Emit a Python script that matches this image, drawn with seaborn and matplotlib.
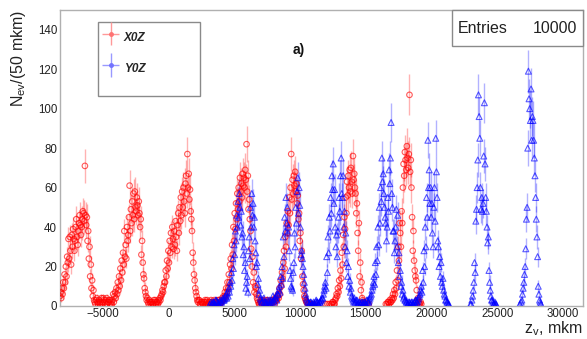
import numpy as np
import pandas as pd
import seaborn as sns
import matplotlib
matplotlib.use('Agg')
import matplotlib.pyplot as plt
from matplotlib.patches import Rectangle
from matplotlib.ticker import MultipleLocator
from matplotlib.container import ErrorbarContainer
from matplotlib.legend_handler import HandlerErrorbar

### histogram contents, 50 mkm bins
red_start = -8275
blue_start = 3125
bin_step = 50

red_counts = [5, 7, 4, 9, 6, 12, 9, 16, 12, 20, 15, 25, 22, 34, 24, 35, 28, 21, 36, 30,
              39, 34, 28, 33, 40, 44, 35, 31, 38, 42, 46, 41, 36, 40, 44, 48, 47, 43, 71, 46,
              41, 45, 33, 38, 24, 30, 15, 21, 9, 13, 5, 8, 3, 2, 1, 3, 4, 2, 1, 2,
              3, 1, 2, 4, 1, 2, 4, 3, 2, 1, 3, 4, 1, 2, 2, 3, 3, 1, 2, 1,
              3, 6, 2, 5, 7, 4, 9, 6, 12, 8, 15, 10, 19, 13, 23, 17, 27, 21, 38, 25,
              31, 24, 40, 33, 36, 45, 61, 38, 49, 42, 53, 46, 57, 44, 58, 50, 48, 55, 51, 46,
              53, 47, 40, 44, 26, 33, 22, 16, 14, 9, 7, 5, 3, 4, 2, 1, 3, 2, 1, 2,
              2, 1, 1, 3, 2, 3, 1, 2, 2, 1, 3, 2, 4, 3, 5, 6, 8, 7, 10, 12,
              12, 18, 15, 23, 19, 28, 22, 33, 27, 37, 30, 40, 34, 29, 38, 31, 43, 35, 28, 41,
              47, 37, 50, 43, 55, 46, 58, 50, 60, 53, 47, 62, 66, 57, 77, 60, 67, 54, 59, 48,
              44, 38, 27, 22, 16, 13, 9, 7, 5, 3, 2, 3, 3, 1, 1, 2, 2, 1, 1, 2,
              2, 3, 1, 2, 3, 1, 1, 2, 2, 1, 3, 2, 1, 1, 2, 3, 2, 1, 1, 2,
              2, 3, 3, 1, 1, 2, 2, 4, 3, 5, 4, 7, 5, 9, 7, 12, 9, 16, 12, 21,
              24, 19, 31, 26, 40, 33, 47, 39, 52, 44, 57, 49, 60, 53, 65, 58, 62, 55, 67, 61,
              65, 60, 69, 64, 82, 58, 66, 49, 54, 44, 38, 29, 20, 25, 12, 17, 7, 10, 9, 6,
              4, 3, 2, 1, 1, 2, 2, 1, 3, 2, 1, 1, 2, 3, 1, 2, 3, 1, 2, 1,
              1, 2, 2, 3, 3, 2, 2, 1, 4, 3, 3, 5, 6, 4, 9, 6, 13, 10, 17, 14,
              22, 28, 19, 35, 30, 42, 37, 48, 41, 55, 47, 60, 77, 54, 64, 57, 66, 61, 68, 58,
              62, 52, 56, 44, 47, 33, 37, 24, 28, 15, 11, 8, 5, 4, 3, 2, 2, 1, 1, 1,
              1, 0, 0, 1, 0, 0, 1, 0, 0, 0, 0, 0, 0, 0, 0, 0, 0, 0, 0, 0,
              0, 0, 0, 0, 1, 0, 0, 1, 0, 0, 1, 0, 0, 1, 1, 2, 2, 1, 1, 3,
              4, 6, 5, 9, 7, 13, 10, 18, 14, 27, 21, 36, 30, 45, 39, 55, 47, 63, 56, 66,
              60, 69, 58, 70, 63, 57, 76, 64, 67, 60, 57, 47, 52, 37, 28, 42, 15, 22, 8, 12,
              4, 3, 2, 2, 1, 1, 0, 1, 0, 0, 1, 0, 0, 0, 0, 0, 0, 0, 0, 0,
              0, 0, 0, 0, 0, 0, 0, 0, 0, 0, 0, 0, 0, 0, 0, 0, 1, 0, 1, 2,
              2, 1, 3, 2, 2, 4, 3, 6, 4, 8, 6, 12, 9, 18, 13, 30, 23, 42, 37, 30,
              48, 42, 60, 72, 66, 78, 74, 69, 81, 75, 70, 77, 107, 68, 74, 60, 45, 28, 38, 23,
              18, 15, 13, 8, 3, 4, 2, 1, 1, 2, 1, 0, 0, 0]

blue_counts = [1, 0, 2, 1, 1, 2, 2, 1, 1, 3, 3, 2, 2, 1, 1, 2, 3, 2, 2, 3,
               4, 3, 3, 4, 5, 6, 4, 7, 5, 9, 7, 12, 10, 17, 13, 24, 19, 31, 26, 38,
               33, 46, 40, 53, 45, 57, 50, 41, 48, 35, 37, 26, 30, 18, 22, 9, 12, 15, 7, 28,
               35, 24, 50, 40, 57, 46, 52, 40, 45, 33, 27, 20, 22, 11, 14, 6, 8, 4, 3, 2,
               2, 3, 4, 2, 2, 1, 1, 2, 3, 1, 2, 3, 1, 2, 3, 2, 5, 3, 2, 4,
               4, 5, 3, 6, 6, 8, 10, 7, 15, 11, 20, 14, 35, 25, 45, 38, 55, 42, 50, 37,
               40, 28, 18, 14, 10, 9, 8, 17, 22, 37, 30, 50, 42, 58, 65, 47, 60, 51, 40, 26,
               28, 24, 20, 16, 12, 9, 6, 4, 3, 2, 2, 1, 1, 2, 2, 1, 1, 1, 2, 1,
               1, 2, 3, 2, 2, 1, 1, 2, 2, 3, 3, 4, 4, 6, 8, 10, 12, 9, 25, 17,
               35, 27, 45, 38, 55, 47, 66, 59, 72, 52, 59, 40, 30, 36, 25, 38, 45, 55, 48, 66,
               75, 57, 55, 66, 40, 48, 30, 37, 22, 28, 15, 20, 10, 13, 7, 9, 5, 4, 3, 2,
               4, 2, 2, 3, 3, 1, 1, 2, 2, 1, 1, 2, 2, 1, 1, 2, 2, 1, 1, 3,
               3, 2, 2, 3, 4, 5, 6, 8, 10, 12, 15, 11, 22, 16, 30, 23, 40, 31, 50, 42,
               60, 53, 75, 63, 67, 57, 50, 45, 42, 33, 40, 55, 48, 69, 62, 75, 93, 57, 50, 38,
               38, 27, 33, 40, 49, 30, 46, 22, 27, 15, 18, 10, 12, 6, 8, 4, 5, 3, 3, 2,
               2, 1, 1, 2, 2, 1, 1, 2, 2, 1, 1, 2, 2, 3, 3, 2, 2, 3, 4, 5,
               6, 8, 10, 7, 18, 12, 28, 20, 40, 30, 55, 45, 84, 60, 69, 52, 60, 45, 52, 37,
               30, 50, 60, 43, 85, 68, 55, 33, 30, 20, 25, 15, 22, 12, 10, 14, 8, 6, 5, 3,
               3, 2, 2, 1, 1, 0, 0, 0, 0, 0, 0, 0, 0, 0, 0, 0, 0, 0, 0, 0,
               0, 0, 0, 0, 0, 0, 0, 0, 0, 0, 0, 0, 0, 0, 0, 0, 0, 1, 1, 3,
               5, 8, 12, 22, 17, 43, 49, 60, 74, 107, 96, 85, 60, 49, 55, 48, 52, 76, 103, 72,
               55, 48, 40, 32, 35, 18, 12, 8, 5, 3, 3, 2, 1, 1, 2, 1, 1, 0, 0, 0,
               0, 0, 0, 0, 0, 0, 0, 0, 0, 0, 0, 0, 0, 0, 0, 0, 0, 0, 0, 0,
               0, 0, 0, 0, 0, 0, 0, 0, 0, 0, 0, 0, 1, 0, 2, 3, 6, 9, 12, 16,
               20, 29, 44, 50, 80, 119, 105, 100, 94, 110, 84, 96, 94, 84, 75, 66, 55, 44, 35, 25,
               10, 6, 3, 2, 1, 0, 0, 0]

n_entries = 10000
series_names = ['X0Z', 'Y0Z']
x_major = [-5000, 0, 5000, 10000, 15000, 20000, 25000, 30000]
y_major = [0, 20, 40, 60, 80, 100, 120, 140]


def to_frame(start, counts):
    frame = pd.DataFrame({'z': start + bin_step * np.arange(len(counts)), 'n': counts})
    frame = frame[frame.n > 0].copy()   # empty bins are not drawn
    frame['err'] = np.sqrt(frame.n)
    return frame


if __name__ == '__main__':
    sns.set_style('white')
    plt.rcParams['font.family'] = ['Liberation Sans', 'DejaVu Sans']
    plt.rcParams['mathtext.fontset'] = 'custom'
    plt.rcParams['mathtext.rm'] = 'Liberation Sans'
    plt.rcParams['mathtext.it'] = 'Liberation Sans:italic'

    red = to_frame(red_start, red_counts)
    blue = to_frame(blue_start, blue_counts)

    fig = plt.figure(figsize=(5.87, 3.39), dpi=100)
    ax = fig.add_axes([60 / 587, 33 / 339, 523 / 587, 296 / 339])

    red_col = (1.0, 0.0, 0.0)
    blue_col = (0.0, 0.0, 1.0)

    ### error bars then open markers
    ax.vlines(red.z, red.n - red.err, red.n + red.err, color=red_col, alpha=0.3, lw=1.0, zorder=2)
    ax.vlines(blue.z, blue.n - blue.err, blue.n + blue.err, color=blue_col, alpha=0.3, lw=1.0, zorder=2)
    sns.scatterplot(data=red, x='z', y='n', ax=ax, marker='o', s=16, facecolor='none',
                    edgecolor=red_col, alpha=0.65, linewidth=0.8, zorder=3)
    sns.scatterplot(data=blue, x='z', y='n', ax=ax, marker='^', s=18, facecolor='none',
                    edgecolor=blue_col, alpha=0.65, linewidth=0.8, zorder=3)

    ax.set_xlim(-8270, 31530)
    ax.set_ylim(0, 150)
    ax.set_xticks(x_major)
    ax.set_yticks(y_major)
    ax.xaxis.set_minor_locator(MultipleLocator(1000))
    ax.yaxis.set_minor_locator(MultipleLocator(5))
    ax.tick_params(which='both', direction='in', color='#8a8a8a', width=0.9,
                   labelcolor='#222222', labelsize=8.3)
    ax.tick_params(axis='x', which='major', length=6.5, pad=1.5)
    ax.tick_params(axis='x', which='minor', length=3.2)
    ax.tick_params(axis='y', which='major', length=11.3, pad=2)
    ax.tick_params(axis='y', which='minor', length=5.6)
    ax.tick_params(top=False, right=False, which='both')
    for sp in ax.spines.values():
        sp.set_visible(True)
        sp.set_color('#b0b0b0')
        sp.set_linewidth(1.0)

    ax.set_xlabel(r'z$_{\mathrm{v}}$, mkm', loc='right', fontsize=11.5, color='#222222')
    ax.set_ylabel(r'N$_{\mathrm{ev}}$/(50 mkm)', loc='top', fontsize=11.5, color='#222222')
    ax.xaxis.set_label_coords(1.0, -0.045)
    ax.xaxis.label.set_va('top')
    ax.yaxis.set_label_coords(-0.0803, 1.0)
    ax.yaxis.label.set_rotation_mode('default')
    ax.yaxis.label.set_ha('center')
    ax.yaxis.label.set_va('top')

    ### legend box
    ax.add_patch(Rectangle((0.073, 0.709), 0.195, 0.25, transform=ax.transAxes,
                           facecolor='white', edgecolor='#8a8a8a', lw=1.0, zorder=5))
    h_red = ax.errorbar([np.nan], [np.nan], xerr=1, yerr=1, fmt='o', ms=2.5,
                        color=(1, 0.45, 0.45), ecolor=(1, 0.6, 0.6), elinewidth=1.0)
    h_blue = ax.errorbar([np.nan], [np.nan], xerr=1, yerr=1, fmt='o', ms=2.5,
                         color=(0.45, 0.45, 1), ecolor=(0.6, 0.6, 1), elinewidth=1.0)
    leg = ax.legend([h_red, h_blue], series_names, loc='upper left', bbox_to_anchor=(0.073, 0.959),
                    frameon=False, borderaxespad=0, borderpad=0.35, handlelength=1.4,
                    handleheight=2.5, handletextpad=0.4, labelspacing=0.8,
                    prop={'weight': 'bold', 'style': 'italic', 'size': 8.5},
                    handler_map={ErrorbarContainer: HandlerErrorbar(xerr_size=0.7, yerr_size=1.0)})
    leg.set_zorder(6)

    ### stats box
    ax.add_patch(Rectangle((0.7495, 0.878), 0.2505, 0.122, transform=ax.transAxes,
                           facecolor='white', edgecolor='#8a8a8a', lw=1.0, zorder=5, clip_on=False))
    ax.text(0.761, 0.939, 'Entries', transform=ax.transAxes, fontsize=11.5, va='center',
            ha='left', color='#222222', zorder=6)
    ax.text(0.989, 0.939, str(n_entries), transform=ax.transAxes, fontsize=11.5, va='center',
            ha='right', color='#222222', zorder=6)

    ax.text(0.4455, 0.865, 'a)', transform=ax.transAxes, fontsize=10, fontweight='bold',
            va='center', ha='left', color='#111111')

    plt.savefig('out.png', dpi=100)
